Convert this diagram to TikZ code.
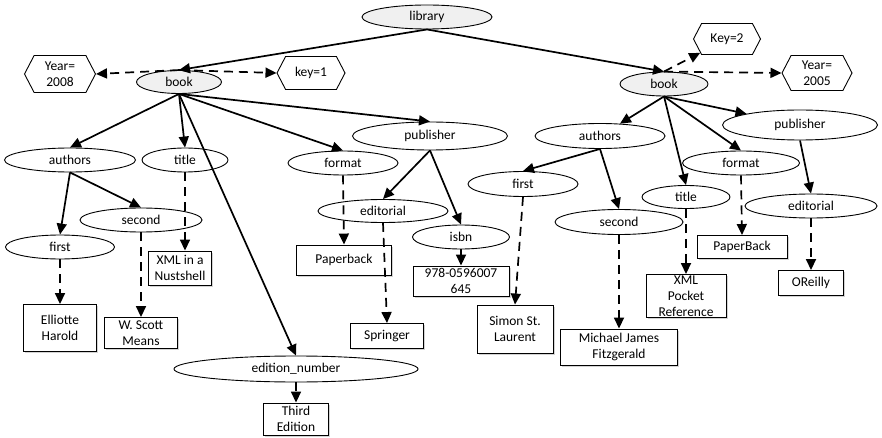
\documentclass[tikz,border=0pt]{standalone}
\usepackage{fontspec}
\setmainfont{Carlito}
\usetikzlibrary{shapes.geometric, shapes.symbols, arrows.meta, shadows}

\begin{document}
\begin{tikzpicture}
  [x=1pt, y=-1pt,
  % ellipse
  elem/.style = {ellipse,
    draw, line width=0.9pt, fill=white,
    minimum height=24pt, inner sep=0pt},
  % grey ellipse
  root/.style = {elem, fill=gray!12},
  % box
  leaf/.style = {rectangle,
    draw, line width=0.9pt, fill=white,
    align=center, inner sep=0pt,
    drop shadow={shadow xshift=1.5pt, shadow yshift=-1.5pt, opacity=0.35}},
  % hexagon
  attr/.style = {signal, signal to=west and east,
    signal pointer angle=125,
    draw, line width=0.9pt, fill=white,
    align=center, inner sep=0pt},
  % line
  line/.style = {draw, line width=1.7pt, -{Triangle[length=11pt, width=10pt]}},
  dline/.style = {line, dash pattern=on 9pt off 6pt},
  font = \fontsize{13.5}{16}\selectfont,
  ]
  \useasboundingbox (0,0) rectangle (882,438);

  % nodes
  \node [root, minimum width=130pt] (library) at (427,17) {library};
  \node [root, minimum width=85pt, minimum height=23pt] (bookL) at (179,82) {book};
  \node [root, minimum width=88pt] (bookR) at (664,84) {book};
  \node [attr, minimum width=71pt, minimum height=37pt] (year08) at (60,74) {Year=\\2008};
  \node [attr, minimum width=68pt, minimum height=33pt] (key1) at (311,73) {key=1};
  \node [attr, minimum width=67pt, minimum height=31pt] (key2) at (727,39) {Key=2};
  \node [attr, minimum width=70pt, minimum height=35pt] (year05) at (817,73) {Year=\\2005};

  % left book
  \node [elem, minimum width=131pt] (authL) at (70,160) {authors};
  \node [elem, minimum width=86pt] (titleL) at (185,160) {title};
  \node [elem, minimum width=110pt] (formatL) at (343,163) {format};
  \node [elem, minimum width=155pt, minimum height=28pt] (pubL) at (430,136) {publisher};
  \node [elem, minimum width=122pt] (secondL) at (141,220) {second};
  \node [elem, minimum width=109pt] (firstL) at (60,247) {first};
  \node [elem, minimum width=130pt, minimum height=23pt] (editL) at (383,211) {editorial};
  \node [elem, minimum width=97pt] (isbnL) at (461,237) {isbn};
  \node [elem, minimum width=244pt, minimum height=26pt] (edition) at (296,369) {edition\_number};

  \node [leaf, minimum width=63pt, minimum height=34pt] (xmlL) at (180,268) {XML in a\\Nustshell};
  \node [leaf, minimum width=95pt, minimum height=30pt] (paperL) at (344,260) {Paperback};
  \node [leaf, minimum width=96pt, minimum height=30pt] (isbnval) at (461,281) {978-0596007\\645};
  \node [leaf, minimum width=73pt, minimum height=47pt] (elliotte) at (60,328) {Elliotte\\Harold};
  \node [leaf, minimum width=73pt, minimum height=31pt] (means) at (141,333) {W. Scott\\Means};
  \node [leaf, minimum width=73pt, minimum height=25pt] (springer) at (387,336) {Springer};
  \node [leaf, minimum width=65pt, minimum height=32pt] (third) at (296,419) {Third\\Edition};

  % right book
  \node [elem, minimum width=130pt, minimum height=25pt] (authR) at (600,136) {authors};
  \node [elem, minimum width=155pt, minimum height=30pt] (pubR) at (800,125) {publisher};
  \node [elem, minimum width=117pt] (formatR) at (741,163) {format};
  \node [elem, minimum width=110pt, minimum height=25pt] (firstR) at (523,184) {first};
  \node [elem, minimum width=88pt, minimum height=23pt] (titleR) at (686,197) {title};
  \node [elem, minimum width=132pt] (editR) at (811,206) {editorial};
  \node [elem, minimum width=128pt, minimum height=25pt] (secondR) at (619,222) {second};

  \node [leaf, minimum width=90pt, minimum height=23pt] (paperR) at (742,247) {PaperBack};
  \node [leaf, minimum width=80pt, minimum height=43pt] (xmlR) at (686,296) {XML\\Pocket\\Reference};
  \node [leaf, minimum width=65pt, minimum height=25pt] (oreilly) at (811,283) {OReilly};
  \node [leaf, minimum width=76pt, minimum height=48pt] (simon) at (515,329) {Simon St.\\Laurent};
  \node [leaf, minimum width=117pt, minimum height=36pt] (michael) at (619,347) {Michael James\\Fitzgerald};

  % path
  \path [line] (library.south) -- (bookL.north);
  \path [line] (library.south) -- (bookR.north);
  \path [dline] (bookL.north) -- (year08.east);
  \path [dline] (bookL.north) -- (key1.west);
  \path [dline] (bookR.north) -- (key2);
  \path [dline] (bookR.north) -- (year05.west);

  \path [line] (bookL.south) -- (authL.north);
  \path [line] (bookL.south) -- (titleL.north);
  \path [line] (bookL.south) -- (edition.north);
  \path [line] (bookL.south) -- (formatL.north);
  \path [line] (bookL.south) -- (pubL.north);
  \path [line] (authL.south) -- (firstL.north);
  \path [line] (authL.south) -- (secondL.north);
  \path [line] (pubL.south) -- (editL.north);
  \path [line] (pubL.south) -- (isbnL.north);
  \path [line] (isbnL.south) -- (isbnval.north);
  \path [dline] (titleL.south) -- (titleL.south |- xmlL.north);
  \path [dline] (firstL.south) -- (elliotte.north);
  \path [dline] (secondL.south) -- (means.north);
  \path [dline] (formatL.south) -- (paperL.north);
  \path [dline] (editL.south) -- (springer.north);
  \path [dline] (edition.south) -- (third.north);

  \path [line] (bookR.south) -- (authR);
  \path [line] (bookR.south) -- (titleR.north);
  \path [line] (bookR.south) -- (formatR.north);
  \path [line] (bookR.south) -- (pubR);
  \path [line] (authR.south) -- (firstR.north);
  \path [line] (authR.south) -- (secondR.north);
  \path [line] (pubR.south) -- (editR.north);
  \path [dline] (firstR.south) -- (simon.north);
  \path [dline] (secondR.south) -- (michael.north);
  \path [dline] (titleR.south) -- (xmlR.north);
  \path [dline] (formatR.south) -- (paperR.north);
  \path [dline] (editR.south) -- (oreilly.north);

\end{tikzpicture}
\end{document}
